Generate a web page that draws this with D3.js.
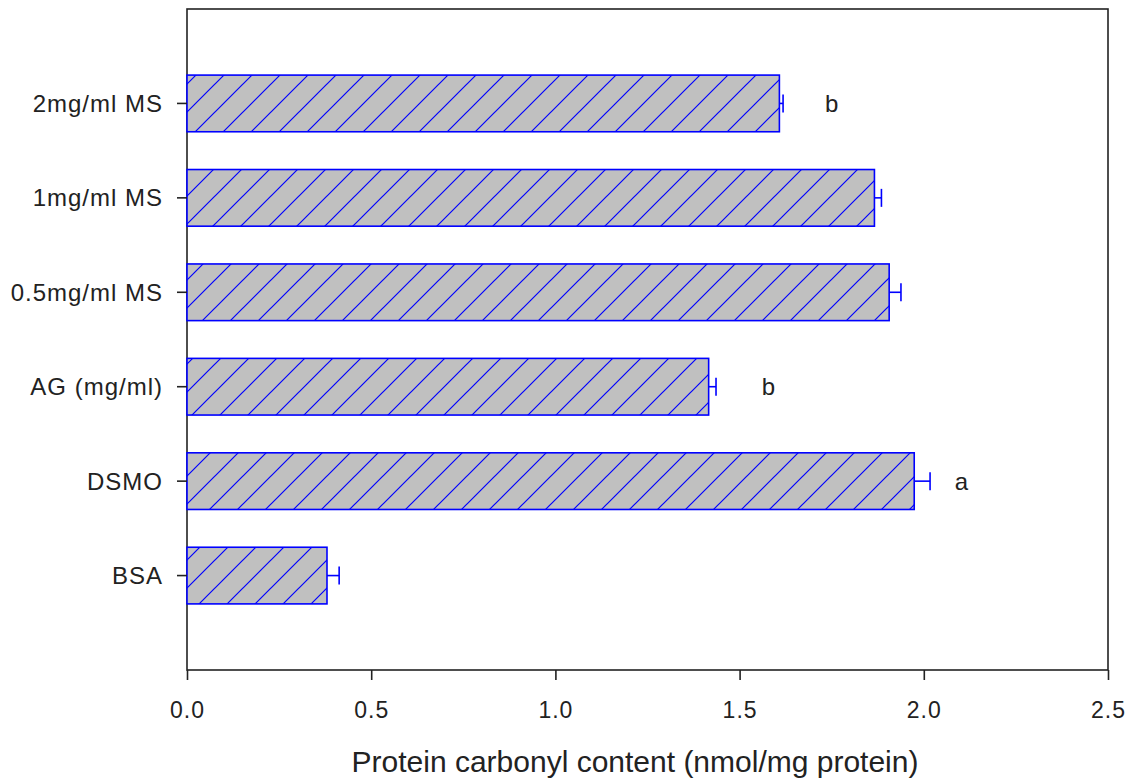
<!DOCTYPE html>
<html><head><meta charset="utf-8">
<script src="https://cdn.jsdelivr.net/npm/d3@7"></script>
<style>body{margin:0;background:#fff}svg{display:block}</style>
</head><body>
<script>
const categories = ["BSA","DSMO","AG (mg/ml)","0.5mg/ml MS","1mg/ml MS","2mg/ml MS"];
const values = [0.380, 1.974, 1.416, 1.906, 1.866, 1.608];
const errors = [0.033, 0.043, 0.020, 0.032, 0.019, 0.010];
const letters = [
  {cat:"2mg/ml MS", x:1.750, text:"b"},
  {cat:"AG (mg/ml)", x:1.578, text:"b"},
  {cat:"DSMO", x:2.102, text:"a"}
];
const xTicks = [0.0,0.5,1.0,1.5,2.0,2.5];
const xTitle = "Protein carbonyl content (nmol/mg protein)";

const W=1131,H=780;
const L=187,R=1108,T=9,B=670;
const FF="Liberation Sans, Arial, sans-serif";
const svg=d3.select("body").append("svg").attr("width",W).attr("height",H);
const defs=svg.append("defs");
const pat=defs.append("pattern").attr("id","hatch").attr("patternUnits","userSpaceOnUse")
  .attr("width",28).attr("height",28).attr("x",L).attr("y",0);
pat.append("rect").attr("width",28).attr("height",28).attr("fill","#c0c0c0");
pat.append("path").attr("d","M-7,7 L7,-7 M0,28 L28,0 M21,35 L35,21").attr("stroke","#0000ff").attr("stroke-width",1.2);

const x=d3.scaleLinear().domain([0,2.5]).range([L,R]);
const yIdx=d3.scaleLinear().domain([0,7]).range([B,T]);
const yc=c=>yIdx(categories.indexOf(c)+1);
const bh=(yIdx(0)-yIdx(1))*0.6;

// frame
svg.append("rect").attr("x",L).attr("y",T).attr("width",R-L).attr("height",B-T)
  .attr("fill","none").attr("stroke","#222").attr("stroke-width",1.6);

// bars
svg.selectAll("rect.bar").data(categories).enter().append("rect").attr("class","bar")
  .attr("x",x(0)).attr("y",d=>yc(d)-bh/2)
  .attr("width",(d,i)=>x(values[i])-x(0)).attr("height",bh)
  .attr("fill","url(#hatch)").attr("stroke","#0000ff").attr("stroke-width",1.6);

// error bars
const eg=svg.append("g").attr("stroke","#0000ff").attr("stroke-width",1.6);
categories.forEach((c,i)=>{
  const y=yc(c), x1=x(values[i]), x2=x(values[i]+errors[i]);
  eg.append("line").attr("x1",x1).attr("x2",x2).attr("y1",y).attr("y2",y);
  eg.append("line").attr("x1",x2).attr("x2",x2).attr("y1",y-9).attr("y2",y+9);
});

// letters
svg.selectAll("text.let").data(letters).enter().append("text").attr("class","let")
  .attr("x",d=>x(d.x)).attr("y",d=>yc(d.cat)).attr("dy","0.35em")
  .attr("text-anchor","middle").attr("font-family",FF)
  .attr("font-size",24).attr("fill","#222").text(d=>d.text);

// x axis
const xa=svg.append("g").attr("transform",`translate(0,${B})`)
  .call(d3.axisBottom(x).tickValues(xTicks).tickFormat(d3.format(".1f")).tickSize(10).tickSizeOuter(0));
xa.select(".domain").remove();
xa.selectAll("line").attr("stroke","#222").attr("stroke-width",1.6);
xa.selectAll("text").attr("font-family",FF).attr("font-size",23).attr("letter-spacing",1).attr("fill","#222")
  .attr("y",0).attr("dy",0).attr("transform","translate(0,48)");

// y axis
const ya=svg.append("g").attr("transform",`translate(${L},0)`);
categories.forEach(c=>{
  const y=yc(c);
  ya.append("line").attr("x1",-10).attr("x2",0).attr("y1",y).attr("y2",y).attr("stroke","#222").attr("stroke-width",1.6);
  ya.append("text").attr("x",-24).attr("y",y).attr("dy","0.36em").attr("text-anchor","end")
    .attr("font-family",FF).attr("font-size",24).attr("letter-spacing",1).attr("fill","#222").text(c);
});

svg.append("text").attr("x",635).attr("y",772).attr("text-anchor","middle")
  .attr("font-family",FF).attr("font-size",30).attr("fill","#222").text(xTitle);
</script>
</body></html>
